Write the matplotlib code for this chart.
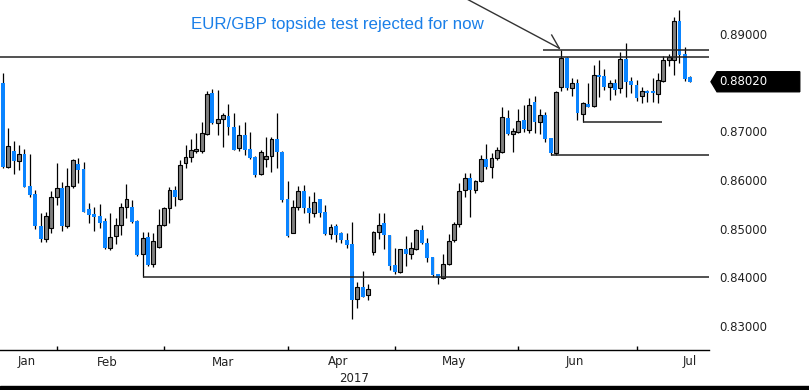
import matplotlib
matplotlib.use('Agg')
import matplotlib.pyplot as plt
import numpy as np
import pandas as pd
from matplotlib.patches import Polygon, Rectangle
from matplotlib.transforms import blended_transform_factory

# EUR/GBP daily candles, 18 Jan 2017 onwards
opens = [0.8799, 0.8627, 0.8660, 0.8639, 0.8653, 0.8588, 0.8572, 0.8506, 0.8478, 0.8502,
         0.8566, 0.8583, 0.8506, 0.8588, 0.8633, 0.8623, 0.8540, 0.8530, 0.8526, 0.8516,
         0.8460, 0.8484, 0.8508, 0.8544, 0.8545, 0.8516, 0.8449, 0.8482, 0.8427, 0.8463,
         0.8508, 0.8542, 0.8580, 0.8562, 0.8634, 0.8647, 0.8659, 0.8660, 0.8694, 0.8778,
         0.8717, 0.8725, 0.8732, 0.8710, 0.8666, 0.8693, 0.8663, 0.8648, 0.8612, 0.8643,
         0.8650, 0.8684, 0.8658, 0.8562, 0.8492, 0.8544, 0.8578, 0.8542, 0.8533, 0.8560,
         0.8535, 0.8489, 0.8506, 0.8491, 0.8477, 0.8469, 0.8356, 0.8381, 0.8364, 0.8453,
         0.8494, 0.8511, 0.8487, 0.8425, 0.8410, 0.8458, 0.8447, 0.8458, 0.8498, 0.8471,
         0.8441, 0.8406, 0.8399, 0.8427, 0.8477, 0.8509, 0.8580, 0.8604, 0.8580, 0.8597,
         0.8643, 0.8627, 0.8645, 0.8658, 0.8727, 0.8695, 0.8699, 0.8723, 0.8703, 0.8761,
         0.8720, 0.8734, 0.8686, 0.8655, 0.8792, 0.8850, 0.8789, 0.8799, 0.8736, 0.8756,
         0.8752, 0.8816, 0.8814, 0.8792, 0.8799, 0.8789, 0.8848, 0.8804, 0.8795, 0.8773,
         0.8783, 0.8784, 0.8777, 0.8804, 0.8847, 0.8847, 0.8927, 0.8859, 0.8812]
highs = [0.8819, 0.8706, 0.8680, 0.8673, 0.8663, 0.8653, 0.8579, 0.8532, 0.8535, 0.8577,
         0.8634, 0.8595, 0.8625, 0.8643, 0.8645, 0.8638, 0.8552, 0.8545, 0.8550, 0.8523,
         0.8532, 0.8521, 0.8552, 0.8592, 0.8558, 0.8518, 0.8494, 0.8494, 0.8492, 0.8540,
         0.8545, 0.8586, 0.8588, 0.8641, 0.8671, 0.8684, 0.8696, 0.8720, 0.8783, 0.8787,
         0.8786, 0.8738, 0.8756, 0.8737, 0.8713, 0.8719, 0.8699, 0.8650, 0.8662, 0.8688,
         0.8689, 0.8737, 0.8659, 0.8597, 0.8559, 0.8588, 0.8590, 0.8567, 0.8576, 0.8561,
         0.8549, 0.8510, 0.8510, 0.8494, 0.8491, 0.8513, 0.8390, 0.8414, 0.8386, 0.8495,
         0.8532, 0.8532, 0.8488, 0.8461, 0.8459, 0.8485, 0.8473, 0.8499, 0.8508, 0.8480,
         0.8442, 0.8407, 0.8449, 0.8489, 0.8514, 0.8593, 0.8615, 0.8614, 0.8600, 0.8651,
         0.8674, 0.8655, 0.8667, 0.8751, 0.8743, 0.8706, 0.8747, 0.8754, 0.8768, 0.8773,
         0.8747, 0.8740, 0.8687, 0.8782, 0.8868, 0.8853, 0.8809, 0.8807, 0.8761, 0.8799,
         0.8836, 0.8847, 0.8828, 0.8806, 0.8807, 0.8864, 0.8881, 0.8812, 0.8806, 0.8791,
         0.8786, 0.8809, 0.8821, 0.8855, 0.8860, 0.8936, 0.8949, 0.8874, 0.8813]
lows = [0.8625, 0.8625, 0.8612, 0.8621, 0.8585, 0.8566, 0.8499, 0.8472, 0.8473, 0.8491,
        0.8549, 0.8496, 0.8501, 0.8583, 0.8593, 0.8534, 0.8511, 0.8496, 0.8501, 0.8459,
        0.8456, 0.8468, 0.8487, 0.8521, 0.8511, 0.8444, 0.8401, 0.8424, 0.8422, 0.8460,
        0.8506, 0.8511, 0.8547, 0.8559, 0.8624, 0.8638, 0.8655, 0.8656, 0.8693, 0.8716,
        0.8693, 0.8667, 0.8693, 0.8661, 0.8660, 0.8651, 0.8644, 0.8606, 0.8611, 0.8626,
        0.8617, 0.8624, 0.8555, 0.8483, 0.8491, 0.8538, 0.8533, 0.8511, 0.8525, 0.8525,
        0.8488, 0.8478, 0.8473, 0.8471, 0.8460, 0.8314, 0.8338, 0.8359, 0.8353, 0.8446,
        0.8479, 0.8458, 0.8415, 0.8406, 0.8409, 0.8424, 0.8438, 0.8457, 0.8469, 0.8432,
        0.8401, 0.8386, 0.8397, 0.8425, 0.8473, 0.8504, 0.8566, 0.8525, 0.8574, 0.8595,
        0.8622, 0.8604, 0.8641, 0.8656, 0.8693, 0.8658, 0.8697, 0.8699, 0.8697, 0.8697,
        0.8695, 0.8679, 0.8651, 0.8651, 0.8782, 0.8785, 0.8773, 0.8723, 0.8720, 0.8750,
        0.8750, 0.8771, 0.8785, 0.8764, 0.8775, 0.8778, 0.8771, 0.8778, 0.8763, 0.8759,
        0.8761, 0.8761, 0.8759, 0.8802, 0.8834, 0.8816, 0.8840, 0.8804, 0.8801]
closes = [0.8627, 0.8670, 0.8639, 0.8653, 0.8586, 0.8569, 0.8506, 0.8478, 0.8526, 0.8565,
          0.8583, 0.8506, 0.8588, 0.8641, 0.8621, 0.8535, 0.8528, 0.8525, 0.8511, 0.8460,
          0.8482, 0.8508, 0.8544, 0.8561, 0.8514, 0.8445, 0.8480, 0.8425, 0.8475, 0.8508,
          0.8542, 0.8580, 0.8565, 0.8631, 0.8647, 0.8662, 0.8664, 0.8696, 0.8777, 0.8717,
          0.8725, 0.8734, 0.8708, 0.8662, 0.8692, 0.8662, 0.8645, 0.8610, 0.8657, 0.8649,
          0.8684, 0.8658, 0.8559, 0.8484, 0.8544, 0.8578, 0.8542, 0.8533, 0.8555, 0.8532,
          0.8489, 0.8504, 0.8487, 0.8477, 0.8467, 0.8354, 0.8381, 0.8360, 0.8376, 0.8494,
          0.8508, 0.8487, 0.8423, 0.8412, 0.8458, 0.8447, 0.8460, 0.8498, 0.8470, 0.8439,
          0.8405, 0.8398, 0.8427, 0.8475, 0.8509, 0.8578, 0.8604, 0.8580, 0.8597, 0.8643,
          0.8627, 0.8645, 0.8662, 0.8730, 0.8695, 0.8701, 0.8722, 0.8704, 0.8754, 0.8720,
          0.8734, 0.8684, 0.8655, 0.8781, 0.8850, 0.8789, 0.8799, 0.8737, 0.8758, 0.8751,
          0.8816, 0.8812, 0.8791, 0.8799, 0.8786, 0.8848, 0.8802, 0.8795, 0.8768, 0.8784,
          0.8779, 0.8778, 0.8806, 0.8847, 0.8852, 0.8927, 0.8857, 0.8807, 0.8802]

# 0.88000 is covered by the last-price marker, so it is not labelled
price_ticks = [0.83, 0.84, 0.85, 0.86, 0.87, 0.89]
last_price = 0.8802

# support / resistance lines: (level, start candle, end candle or None = right edge)
levels = [(0.8852, -1, None), (0.8867, 100.6, None), (0.86515, 102, None),
          (0.8401, 26, None), (0.8720, 108, 122.8)]

note = 'EUR/GBP topside test rejected for now'

O = np.array(opens); H = np.array(highs); L = np.array(lows); C = np.array(closes)
n = len(C)
x = np.arange(n)
dates = pd.bdate_range('2017-01-18', periods=n)
up = C >= O
dn = ~up

xmin, xmax = -0.56, 131.5

fig = plt.figure(figsize=(8.09, 3.9), dpi=100)
ax = fig.add_axes([0, 40 / 390, 709 / 809, 350 / 390])

ax.vlines(x, L, H, color='black', lw=0.9, zorder=1)
ax.bar(x[up], C[up] - O[up], bottom=O[up], width=0.72, color='#808080',
       edgecolor='black', lw=0.8, zorder=2)
ax.bar(x[dn], O[dn] - C[dn], bottom=C[dn], width=0.72, color='#0a84ff', lw=0, zorder=2)

for lvl, x0, x1 in levels:
    ax.hlines(lvl, x0, xmax if x1 is None else x1, color='#222222', lw=1.1, zorder=3)

# arrow from the note to the rejected high
ax.plot([86.4, 103.6], [0.8972, 0.8871], color='#333333', lw=1, zorder=3)
ax.plot([102.2, 103.6], [0.8898, 0.8871], color='#333333', lw=1, zorder=3)
ax.text(35.0, 0.8919, note, color='#1a7fe8', fontsize=12.2, family='Liberation Sans',
        ha='left', va='center')

ax.set_xlim(xmin, xmax)
ax.set_ylim(0.82507, 0.8970)

for s in ['top', 'left', 'right']:
    ax.spines[s].set_visible(False)
ax.spines['bottom'].set_color('black')
ax.spines['bottom'].set_linewidth(1)

ax.yaxis.tick_right()
ax.set_yticks(price_ticks)
ax.set_yticklabels(['%.5f' % p for p in price_ticks])
ax.tick_params(axis='y', length=0, pad=7.5, labelsize=8.5, labelcolor='#222222')

month_starts = [i for i in range(1, n) if dates[i].month != dates[i - 1].month]
ax.set_xticks(month_starts)
ax.set_xticklabels([])
ax.tick_params(axis='x', direction='in', length=3, width=1, color='black')

# month names centred in each month
cal = pd.bdate_range('2017-01-18', '2017-07-31')
idx = pd.Series(np.arange(len(cal)), index=cal)
centers = idx.groupby(cal.month).mean()
tr = blended_transform_factory(ax.transData, ax.transAxes)
for m, c in centers.items():
    ax.text(c, -12 / 350, pd.Timestamp(2017, m, 1).strftime('%b'), transform=tr,
            ha='center', va='center', fontsize=8.5, color='#222222')
ax.text(0.5, -29 / 350, '2017', transform=ax.transAxes, ha='center', va='center',
        fontsize=8.5, color='#222222')

# last price marker on the axis
tr2 = blended_transform_factory(ax.transAxes, ax.transData)
hh = 0.00206
marker = Polygon([(1.0028, last_price), (1.0113, last_price + hh), (1.128, last_price + hh),
                  (1.128, last_price - hh), (1.0113, last_price - hh)],
                 closed=True, transform=tr2, color='black', clip_on=False)
ax.add_patch(marker)
ax.text(1.0141, last_price, '%.5f' % last_price, transform=tr2, color='white',
        fontsize=8.5, va='center', ha='left')

fig.patches.append(Rectangle((0, 0), 1, 4 / 390, transform=fig.transFigure,
                             color='black'))

fig.savefig('out.png', dpi=100)
